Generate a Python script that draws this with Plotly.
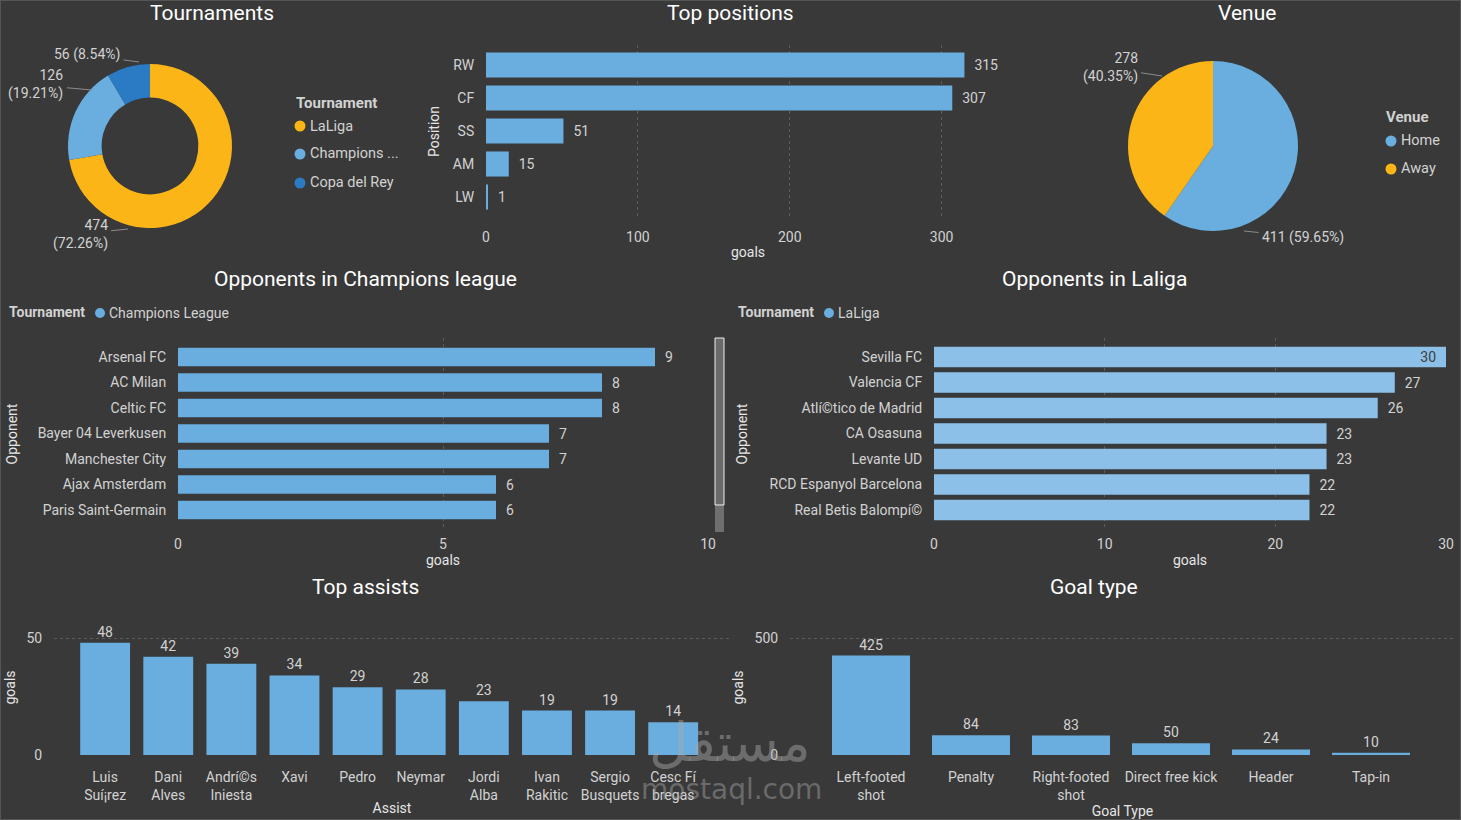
import plotly.graph_objects as go

W, H = 1461, 820
BG = "#393939"
FONT = "Segoe UI, Roboto, sans-serif"
TICK = "#d2d2d2"
GRID = "#5c5c5c"
BLUE = "#6aaddf"
BLUE_LIGHT = "#8cc0e8"
YELLOW = "#fbb516"
DARKBLUE = "#2b7bc4"
LEADER = "#8c8c8c"

# ---------------- data ----------------
tour_labels = ["LaLiga", "Champions League", "Copa del Rey"]
tour_values = [474, 126, 56]

pos_labels = ["RW", "CF", "SS", "AM", "LW"]
pos_values = [315, 307, 51, 15, 1]

venue_labels = ["Home", "Away"]
venue_values = [411, 278]

cl_opponents = ["Arsenal FC", "AC Milan", "Celtic FC", "Bayer 04 Leverkusen",
                "Manchester City", "Ajax Amsterdam", "Paris Saint-Germain"]
cl_goals = [9, 8, 8, 7, 7, 6, 6]

liga_opponents = ["Sevilla FC", "Valencia CF", "Atlí©tico de Madrid", "CA Osasuna",
                  "Levante UD", "RCD Espanyol Barcelona", "Real Betis Balompí©"]
liga_goals = [30, 27, 26, 23, 23, 22, 22]

assist_names = ["Luis<br>Suí¡rez", "Dani<br>Alves", "Andrí©s<br>Iniesta", "Xavi", "Pedro",
                "Neymar", "Jordi<br>Alba", "Ivan<br>Rakitic", "Sergio<br>Busquets", "Cesc Fí<br>bregas"]
assist_goals = [48, 42, 39, 34, 29, 28, 23, 19, 19, 14]

goal_types = ["Left-footed<br>shot", "Penalty", "Right-footed<br>shot",
              "Direct free kick", "Header", "Tap-in"]
goal_type_goals = [425, 84, 83, 50, 24, 10]


def fx(px):
    return px / W


def fy(py):
    return 1 - py / H


fig = go.Figure()

# ---------------- Tournaments donut ----------------
fig.add_trace(go.Pie(
    labels=tour_labels, values=tour_values, hole=0.59, sort=False,
    direction="clockwise", rotation=0,
    marker=dict(colors=[YELLOW, BLUE, DARKBLUE], line=dict(width=0)),
    domain=dict(x=[fx(68), fx(232)], y=[fy(228), fy(64)]),
    textinfo="none", showlegend=False, hoverinfo="label+value",
))

# ---------------- Venue pie ----------------
fig.add_trace(go.Pie(
    labels=venue_labels, values=venue_values, sort=False,
    direction="clockwise", rotation=0,
    marker=dict(colors=[BLUE, YELLOW], line=dict(width=0)),
    domain=dict(x=[fx(1128), fx(1298)], y=[fy(231), fy(61)]),
    textinfo="none", showlegend=False, hoverinfo="label+value",
))

# ---------------- Top positions ----------------
fig.add_trace(go.Bar(
    x=pos_values, y=pos_labels, orientation="h", xaxis="x", yaxis="y",
    marker=dict(color=BLUE, line=dict(width=0)), width=0.76,
    texttemplate="\u00a0\u00a0%{x}", textposition="outside",
    textfont=dict(size=14, color=TICK), cliponaxis=False, showlegend=False,
))

# ---------------- Opponents in Champions league ----------------
fig.add_trace(go.Bar(
    x=cl_goals, y=cl_opponents, orientation="h", xaxis="x2", yaxis="y2",
    marker=dict(color=BLUE, line=dict(width=0)), width=0.73,
    texttemplate="\u00a0\u00a0%{x}", textposition="outside",
    textfont=dict(size=14, color=TICK), cliponaxis=False, showlegend=False,
))

# ---------------- Opponents in Laliga ----------------
liga_pos = ["inside"] + ["outside"] * (len(liga_goals) - 1)
fig.add_trace(go.Bar(
    x=liga_goals, y=liga_opponents, orientation="h", xaxis="x3", yaxis="y3",
    marker=dict(color=BLUE_LIGHT, line=dict(width=0)), width=0.8,
    texttemplate="\u00a0\u00a0%{x}\u00a0\u00a0", textposition=liga_pos,
    insidetextanchor="end", constraintext="none",
    insidetextfont=dict(size=14, color="#3d3d3d"),
    outsidetextfont=dict(size=14, color=TICK),
    cliponaxis=False, showlegend=False,
))

# ---------------- Top assists ----------------
fig.add_trace(go.Bar(
    x=assist_names, y=assist_goals, xaxis="x4", yaxis="y4",
    marker=dict(color=BLUE, line=dict(width=0)), width=0.79,
    texttemplate="%{y}", textposition="outside",
    textfont=dict(size=14, color=TICK), cliponaxis=False, showlegend=False,
))

# ---------------- Goal type ----------------
fig.add_trace(go.Bar(
    x=goal_types, y=goal_type_goals, xaxis="x5", yaxis="y5",
    marker=dict(color=BLUE, line=dict(width=0)), width=0.78,
    texttemplate="%{y}", textposition="outside",
    textfont=dict(size=14, color=TICK), cliponaxis=False, showlegend=False,
))

tickfont = dict(size=14, color=TICK, family=FONT)
titlefont = dict(size=14, color="#e6e6e6", family=FONT)
HIDE = "rgba(0,0,0,0)"


def xlin(domain, rng, dtick, anchor, title, standoff, ticklen):
    return dict(domain=domain, range=rng, dtick=dtick, anchor=anchor, automargin=False,
                showgrid=True, gridcolor=GRID, griddash="dot", gridwidth=1,
                zeroline=False, showline=False, ticks="outside", ticklen=ticklen,
                tickcolor=HIDE, tickfont=tickfont, fixedrange=True,
                title=dict(text=title, font=titlefont, standoff=standoff))


def ycat(domain, rng, anchor, title, standoff):
    return dict(domain=domain, range=rng, anchor=anchor, type="category", automargin=False,
                showgrid=False, zeroline=False, showline=False, ticks="outside",
                ticklen=8, tickcolor=HIDE, tickfont=tickfont,
                fixedrange=True, title=dict(text=title, font=titlefont, standoff=standoff))


def xcat(domain, rng, anchor, title, standoff):
    return dict(domain=domain, range=rng, anchor=anchor, type="category", automargin=False,
                showgrid=False, zeroline=False, showline=False, ticks="outside",
                ticklen=9, tickcolor=HIDE, tickfont=tickfont,
                fixedrange=True, title=dict(text=title, font=titlefont, standoff=standoff))


def ylin(domain, rng, dtick, anchor, title, standoff):
    return dict(domain=domain, range=rng, dtick=dtick, anchor=anchor, automargin=False,
                showgrid=True, gridcolor=GRID, griddash="dot", gridwidth=1,
                zeroline=False, showline=False, ticks="outside", ticklen=8,
                tickcolor=HIDE, tickfont=tickfont, fixedrange=True,
                title=dict(text=title, font=titlefont, standoff=standoff))


layout = dict(
    template="none",
    width=W, height=H, autosize=False,
    margin=dict(l=0, r=0, t=0, b=0, pad=0, autoexpand=False),
    paper_bgcolor=BG, plot_bgcolor=BG,
    font=dict(family=FONT, color=TICK),
    showlegend=False,
    xaxis=xlin([fx(486), fx(1010)], [0, 345], 100, "y", "goals", 3, 6),
    yaxis=ycat([fy(218), fy(45)], [4.636, -0.606], "x", "Position", 9),
    xaxis2=xlin([fx(178), fx(708)], [0, 10], 5, "y2", "goals", 4, 1),
    yaxis2=ycat([fy(530), fy(338)], [6.784, -0.745], "x2", "Opponent", 16),
    xaxis3=xlin([fx(934), fx(1446)], [0, 30], 10, "y3", "goals", 4, 1),
    yaxis3=ycat([fy(530), fy(338)], [6.784, -0.745], "x3", "Opponent", 18),
    xaxis4=xcat([fx(54), fx(730)], [-0.81, 9.9], "y4", "Assist", 1),
    yaxis4=ylin([fy(755), fy(620)], [0, 57.7], 50, "x4", "goals", 7),
    xaxis5=xcat([fx(790), fx(1455)], [-0.81, 5.84], "y5", "Goal Type", 0),
    yaxis5=ylin([fy(755), fy(620)], [0, 577], 500, "x5", "goals", 7),
)
fig.update_layout(**layout)

# ---------------- titles ----------------
titles = [("Tournaments", 212, 13), ("Top positions", 730, 13), ("Venue", 1247, 13),
          ("Opponents in Champions league", 365, 279), ("Opponents in Laliga", 1094, 279),
          ("Top assists", 365, 587), ("Goal type", 1094, 587)]
for t, x, y in titles:
    fig.add_annotation(text=t, x=fx(x), y=fy(y), xref="paper", yref="paper",
                       xanchor="center", yanchor="middle", showarrow=False,
                       font=dict(size=21, color="#ffffff", family=FONT))


# ---------------- pie data labels (with leader lines) ----------------
def pie_label(value, total, two_lines):
    pct = "(%.2f%%)" % (100.0 * value / total)
    return ("%d<br>%s" % (value, pct)) if two_lines else ("%d %s" % (value, pct))


tour_total = sum(tour_values)
venue_total = sum(venue_values)
# (text, tip_x, tip_y, text_center_x, text_center_y, align)
pie_labels = [
    (pie_label(tour_values[0], tour_total, True), 128, 229, 80, 234, "right"),
    (pie_label(tour_values[1], tour_total, True), 92, 90, 36, 85, "right"),
    (pie_label(tour_values[2], tour_total, False), 139, 62, 87, 55, "right"),
    (pie_label(venue_values[1], venue_total, True), 1162, 76, 1110, 68, "right"),
    (pie_label(venue_values[0], venue_total, False), 1244, 231, 1303, 237, "left"),
]
for txt, tx, ty, cx, cy, al in pie_labels:
    fig.add_annotation(text=txt, x=fx(tx), y=fy(ty), xref="paper", yref="paper",
                       ax=cx - tx, ay=cy - ty, axref="pixel", ayref="pixel",
                       showarrow=True, arrowhead=0, arrowwidth=1, arrowcolor=LEADER,
                       standoff=0, startstandoff=2, align=al,
                       font=dict(size=14, color=TICK, family=FONT))


# ---------------- legends (circle markers + text) ----------------
def legend_item(text, color, cx, cy, r=5.5, size=14.5):
    fig.add_shape(type="circle", xref="paper", yref="paper",
                  x0=fx(cx - r), x1=fx(cx + r), y0=fy(cy + r), y1=fy(cy - r),
                  fillcolor=color, line=dict(width=0), layer="above")
    fig.add_annotation(text=text, x=fx(cx + r + 2), y=fy(cy), xref="paper", yref="paper",
                       xanchor="left", yanchor="middle", showarrow=False,
                       font=dict(size=size, color=TICK, family=FONT))


LEGT = dict(size=15, color=TICK, family=FONT)
fig.add_annotation(text="<b>Tournament</b>", x=fx(294), y=fy(103), xref="paper", yref="paper",
                   xanchor="left", yanchor="middle", showarrow=False, font=LEGT)
legend_item(tour_labels[0], YELLOW, 300, 126)
legend_item("Champions ...", BLUE, 300, 154)
legend_item(tour_labels[2], DARKBLUE, 300, 183)

fig.add_annotation(text="<b>Venue</b>", x=fx(1384), y=fy(117), xref="paper", yref="paper",
                   xanchor="left", yanchor="middle", showarrow=False, font=LEGT)
legend_item(venue_labels[0], BLUE, 1391, 141)
legend_item(venue_labels[1], YELLOW, 1391, 169)

SMB = dict(size=14, color=TICK, family=FONT)
fig.add_annotation(text="<b>Tournament</b>", x=fx(7), y=fy(312), xref="paper", yref="paper",
                   xanchor="left", yanchor="middle", showarrow=False, font=SMB)
legend_item("Champions League", BLUE, 100, 313, r=5, size=14)
fig.add_annotation(text="<b>Tournament</b>", x=fx(736), y=fy(312), xref="paper", yref="paper",
                   xanchor="left", yanchor="middle", showarrow=False, font=SMB)
legend_item(tour_labels[0], BLUE, 829, 313, r=5, size=14)

# scrollbar decoration
fig.add_shape(type="rect", xref="paper", yref="paper", x0=fx(715), x1=fx(724),
              y0=fy(532), y1=fy(338), fillcolor="#6f6f6f", line=dict(width=0), layer="above")
fig.add_shape(type="rect", xref="paper", yref="paper", x0=fx(715), x1=fx(724),
              y0=fy(505), y1=fy(338), fillcolor="#6a6a6a", line=dict(width=1, color="#f0f0f0"),
              layer="above")

# border
fig.add_shape(type="rect", xref="paper", yref="paper", x0=0, x1=1, y0=0, y1=1,
              line=dict(width=2, color="#555555"), fillcolor="rgba(0,0,0,0)")

# watermark
fig.add_annotation(text="مستقل", x=fx(730), y=fy(742), xref="paper", yref="paper",
                   xanchor="center", yanchor="middle", showarrow=False,
                   font=dict(size=54, color="rgba(170,170,170,0.45)", family="DejaVu Sans"))
fig.add_annotation(text="mostaql.com", x=fx(731), y=fy(789), xref="paper", yref="paper",
                   xanchor="center", yanchor="middle", showarrow=False,
                   font=dict(size=28, color="rgba(170,170,170,0.45)", family="DejaVu Sans"))

fig.write_html("out.html")
